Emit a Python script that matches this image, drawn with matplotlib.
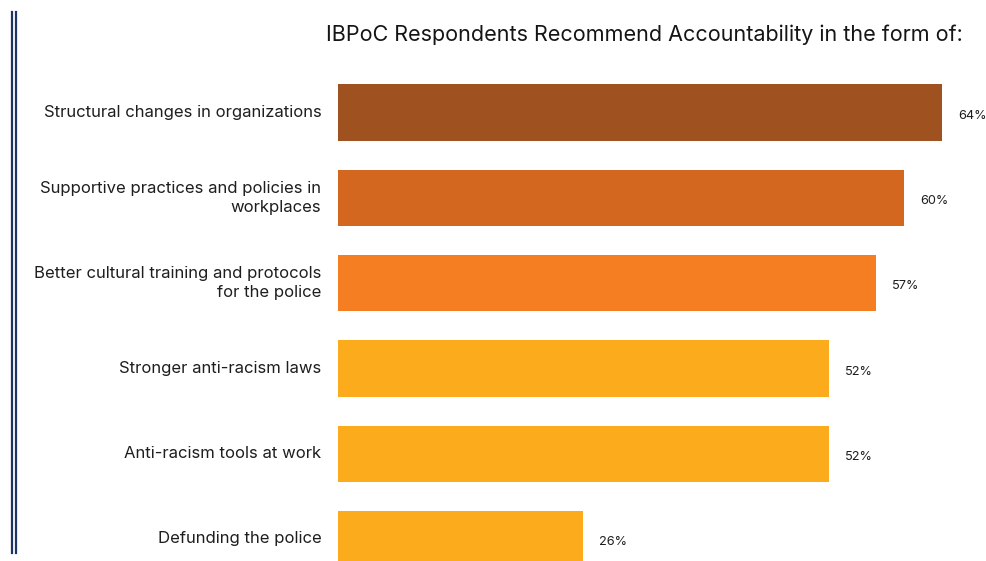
import matplotlib
matplotlib.use('Agg')
import matplotlib.pyplot as plt
from matplotlib.lines import Line2D

plt.rcParams['font.family'] = ['Inter', 'DejaVu Sans']

# survey results
categories = ['Structural changes in organizations',
              'Supportive practices and policies in\nworkplaces',
              'Better cultural training and protocols\nfor the police',
              'Stronger anti-racism laws',
              'Anti-racism tools at work',
              'Defunding the police']
values = [64, 60, 57, 52, 52, 26]
colors = ['#9f521f', '#d4671f', '#f57e22', '#fbab1c', '#fbab1c', '#fbab1c']
title = 'IBPoC Respondents Recommend Accountability in the form of:'

W, H = 987, 561
fig = plt.figure(figsize=(W / 100, H / 100), dpi=100)
fig.patch.set_facecolor('white')

# axes: bars start at x=338, 64% ends at x=942
ax = fig.add_axes([338 / W, 0, (942 - 338) / W, (561 - 70) / H])
ypos = list(range(len(values)))
ax.barh(ypos, values, height=0.66, color=colors)
ax.set_xlim(0, 64)
ax.set_ylim(5.258, -0.498)
ax.axis('off')

for y, v, lab in zip(ypos, values, categories):
    ax.text(-1.75, y, lab, ha='right', va='center', fontsize=12,
            color='#1e1e1e', linespacing=1.35, clip_on=False)
    ax.text(v + 1.7, y + 0.04, '{}%'.format(v), ha='left', va='center',
            fontsize=9.2, color='#1e1e1e', clip_on=False)

fig.text(644 / W, 1 - 35 / H, title, ha='center', va='center',
         fontsize=15.5, color='#151515')

# double rule down the left margin
for x in (12.5, 16.5):
    fig.add_artist(Line2D([x / W, x / W], [1 - 12 / H, 1 - 553 / H],
                          color='#1d3466', lw=1.6))

fig.savefig('out.png', dpi=100, facecolor='white')
